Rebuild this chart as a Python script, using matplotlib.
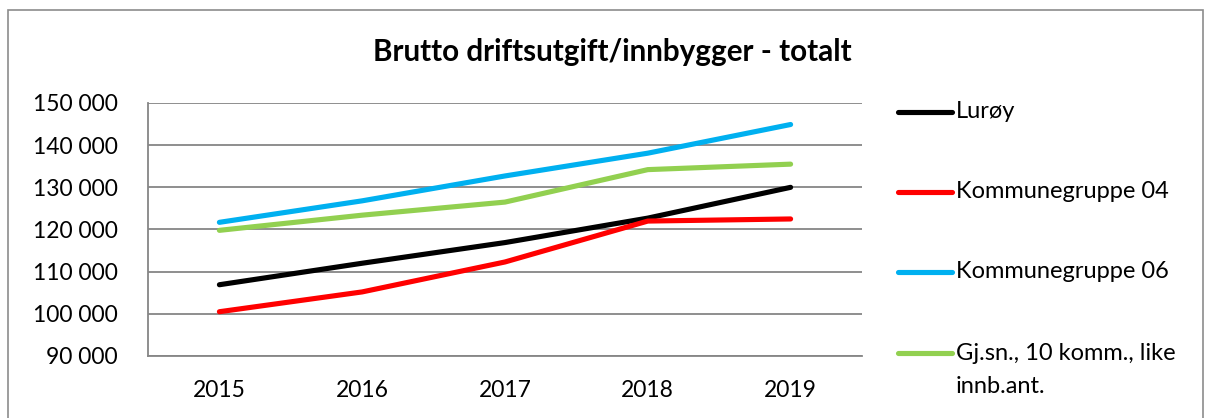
import matplotlib.pyplot as plt
from matplotlib.lines import Line2D
from matplotlib.patches import Rectangle
from matplotlib.ticker import FuncFormatter

# ---------------------------------------------------------------------------
# Data
# ---------------------------------------------------------------------------

years = ["2015", "2016", "2017", "2018", "2019"]

luroy   = [106900, 112000, 116900, 122700, 130000]
komm04  = [100500, 105200, 112300, 122000, 122500]
komm06  = [121700, 126800, 132700, 138100, 144900]
gjsn    = [119800, 123400, 126500, 134200, 135500]

series_names = ["Lurøy", "Kommunegruppe 04", "Kommunegruppe 06",
                "Gj.sn., 10 komm., like\ninnb.ant."]
series_vals  = [luroy, komm04, komm06, gjsn]
colors       = ["#000000", "#FF0000", "#00B0F0", "#92D050"]

y_ticks = [90000, 100000, 110000, 120000, 130000, 140000, 150000]

# ---------------------------------------------------------------------------
# Plot
# ---------------------------------------------------------------------------

plt.rcParams["font.family"] = ["Lato", "DejaVu Sans"]

W, H = 1206, 418
fig = plt.figure(figsize=(W / 100, H / 100), dpi=100)

# chart frame (Excel style border)
fig.add_artist(Rectangle((8 / W, -0.1), (1203 - 8) / W, 1.1 - 10 / H,
                         transform=fig.transFigure, fill=False,
                         edgecolor="#8c8c8c", linewidth=1.2))

ax = fig.add_axes([148 / W, 62 / H, (862 - 148) / W, (356 - 103) / H])

x = list(range(len(years)))
for vals, col in zip(series_vals, colors):
    ax.plot(x, vals, color=col, linewidth=3.7, solid_capstyle="round",
            solid_joinstyle="round", zorder=3)

ax.set_xlim(-0.5, len(years) - 0.5)
ax.set_ylim(90000, 150000)
ax.set_yticks(y_ticks)
ax.yaxis.set_major_formatter(FuncFormatter(lambda v, p: f"{int(v):,}".replace(",", " ")))
ax.set_xticks(x)
ax.set_xticklabels(years)
ax.grid(axis="y", color="#868686", linewidth=1.3)
ax.set_axisbelow(True)

for s in ["top", "right"]:
    ax.spines[s].set_visible(False)
for s in ["left", "bottom"]:
    ax.spines[s].set_color("#868686")
    ax.spines[s].set_linewidth(1.3)
ax.tick_params(length=0, labelsize=16.5, colors="black")
ax.tick_params(axis="y", pad=22)
ax.tick_params(axis="x", pad=17)

fig.text(612 / W, 1 - 52 / H, "Brutto driftsutgift/innbygger - totalt",
         ha="center", va="center", fontsize=21.3, fontweight="bold")

# legend drawn by hand so the handle sits on the first text line
leg_y = [112, 192, 272, 353]
for name, col, yy in zip(series_names, colors, leg_y):
    fy = 1 - yy / H
    fig.add_artist(Line2D([898 / W, 952 / W], [fy, fy], transform=fig.transFigure,
                          color=col, linewidth=3.7, solid_capstyle="round"))
    n_lines = name.count("\n") + 1
    ty = fy - (n_lines - 1) * 17 / H
    fig.text(956 / W, ty, name, ha="left", va="center",
             fontsize=17, linespacing=1.65)

fig.savefig("out.png", dpi=100)
